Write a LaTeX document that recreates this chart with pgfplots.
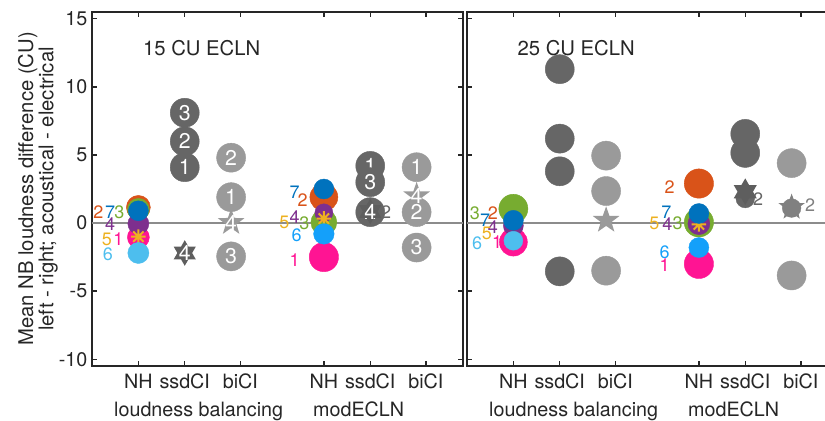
\documentclass[border=0pt]{standalone}
\usepackage{fontspec}
\setmainfont{TeX Gyre Heros}
\usepackage{pgfplots}
\pgfplotsset{compat=1.18}

\definecolor{cOr}{HTML}{D95319}
\definecolor{cBl}{HTML}{0072BD}
\definecolor{cGr}{HTML}{77AC30}
\definecolor{cPu}{HTML}{7E2F8E}
\definecolor{cYe}{HTML}{EDB120}
\definecolor{cLb}{HTML}{4DBEEE}
\definecolor{cLbb}{HTML}{14A0FA}
\definecolor{cMa}{HTML}{FF1493}
\definecolor{dkg}{HTML}{666666}
\definecolor{ltg}{HTML}{9A9A9A}
\definecolor{hxg}{HTML}{5E5E5E}
\definecolor{mdg}{HTML}{808080}
\definecolor{axc}{HTML}{262626}
\definecolor{zl}{HTML}{8C8C8C}

% filled five-pointed star
\pgfdeclareplotmark{pstar}{%
  \pgfpathmoveto{\pgfpointpolar{90}{\pgfplotmarksize}}%
  \pgfpathlineto{\pgfpointpolar{126}{0.4\pgfplotmarksize}}%
  \pgfpathlineto{\pgfpointpolar{162}{\pgfplotmarksize}}%
  \pgfpathlineto{\pgfpointpolar{198}{0.4\pgfplotmarksize}}%
  \pgfpathlineto{\pgfpointpolar{234}{\pgfplotmarksize}}%
  \pgfpathlineto{\pgfpointpolar{270}{0.4\pgfplotmarksize}}%
  \pgfpathlineto{\pgfpointpolar{306}{\pgfplotmarksize}}%
  \pgfpathlineto{\pgfpointpolar{342}{0.4\pgfplotmarksize}}%
  \pgfpathlineto{\pgfpointpolar{18}{\pgfplotmarksize}}%
  \pgfpathlineto{\pgfpointpolar{54}{0.4\pgfplotmarksize}}%
  \pgfpathclose
  \pgfusepathqfill
}
% filled hexagram
\pgfdeclareplotmark{hexa}{%
  \pgfpathmoveto{\pgfpointpolar{90}{\pgfplotmarksize}}%
  \pgfpathlineto{\pgfpointpolar{120}{0.577\pgfplotmarksize}}%
  \pgfpathlineto{\pgfpointpolar{150}{\pgfplotmarksize}}%
  \pgfpathlineto{\pgfpointpolar{180}{0.577\pgfplotmarksize}}%
  \pgfpathlineto{\pgfpointpolar{210}{\pgfplotmarksize}}%
  \pgfpathlineto{\pgfpointpolar{240}{0.577\pgfplotmarksize}}%
  \pgfpathlineto{\pgfpointpolar{270}{\pgfplotmarksize}}%
  \pgfpathlineto{\pgfpointpolar{300}{0.577\pgfplotmarksize}}%
  \pgfpathlineto{\pgfpointpolar{330}{\pgfplotmarksize}}%
  \pgfpathlineto{\pgfpointpolar{0}{0.577\pgfplotmarksize}}%
  \pgfpathlineto{\pgfpointpolar{30}{\pgfplotmarksize}}%
  \pgfpathlineto{\pgfpointpolar{60}{0.577\pgfplotmarksize}}%
  \pgfpathclose
  \pgfusepathqfill
}
% eight-armed asterisk
\pgfdeclareplotmark{ast8}{%
  \pgfpathmoveto{\pgfpointpolar{0}{\pgfplotmarksize}}\pgfpathlineto{\pgfpointpolar{180}{\pgfplotmarksize}}%
  \pgfpathmoveto{\pgfpointpolar{45}{\pgfplotmarksize}}\pgfpathlineto{\pgfpointpolar{225}{\pgfplotmarksize}}%
  \pgfpathmoveto{\pgfpointpolar{90}{\pgfplotmarksize}}\pgfpathlineto{\pgfpointpolar{270}{\pgfplotmarksize}}%
  \pgfpathmoveto{\pgfpointpolar{135}{\pgfplotmarksize}}\pgfpathlineto{\pgfpointpolar{315}{\pgfplotmarksize}}%
  \pgfusepathqstroke
}

\newcommand{\tlfont}{\fontsize{14.8}{15}\selectfont}
\newcommand{\nmfont}{\fontsize{16}{16}\selectfont}
\newcommand{\lbfont}{\fontsize{13.5}{14}\selectfont}
\newcommand{\ttfont}{\fontsize{15.2}{16}\selectfont}
\newcommand{\ylfont}{\fontsize{15.2}{15.2}\selectfont}

\pgfplotsset{
  panel/.style={
    anchor=south west, scale only axis,
    width=278.25pt, height=265.5pt,
    xmin=0, xmax=8, ymin=-10.5, ymax=15.5,
    xtick={1,2,3.2,5,6,7.2},
    xticklabels={NH,ssdCI,biCI,NH,ssdCI,biCI},
    ytick={-10,-5,0,5,10,15},
    yticklabels={-10,-5,0,5,10,15},
    axis line style={axc, line width=2pt},
    tick style={axc, line width=1pt},
    major tick length=4pt,
    tick align=inside,
    xticklabel shift=2.5pt,
    tick label style={font=\tlfont, text=axc},
    clip=false,
  },
  num/.style={nodes near coords, point meta=explicit symbolic,
    every node near coord/.append style={anchor=center, text=white, font=\nmfont, inner sep=0pt}},
}

% numbered marker: mark, size, colour, x, y, number
\newcommand{\gnum}[6]{\addplot[only marks, mark=#1, mark size=#2, mark options={fill=#3, draw=#3, line width=0.3pt}, num] coordinates {(#4,#5) [#6]};}
% plain marker: mark, size, colour, x, y
\newcommand{\gmk}[5]{\addplot[only marks, mark=#1, mark size=#2, mark options={fill=#3, draw=#3, line width=0.3pt}] coordinates {(#4,#5)};}
% subject circle: colour, size, x, y
\newcommand{\ccir}[4]{\addplot[only marks, mark=*, mark size=#2, mark options={fill=#1, draw=#1, line width=0.3pt}] coordinates {(#3,#4)};}
\newcommand{\astk}[2]{\addplot[only marks, mark=ast8, mark size=5.5pt, mark options={draw=cYe, line width=1.5pt}] coordinates {(#1,#2)};}
\newcommand{\clab}[4]{\node[text=#1, font=\lbfont, inner sep=0pt] at (axis cs:#2,#3) {#4};}

\begin{document}
\begin{tikzpicture}
\useasboundingbox (0,0) rectangle (618.75pt,315.75pt);
\clip (0,0) rectangle (618.75pt,315.75pt);

\node[rotate=90, align=center, font=\ylfont, text=axc] at (28.5pt,174pt)
  {Mean NB loudness difference (CU)\\left - right; acoustical - electrical};

% ---------------- 15 CU ECLN ----------------
\begin{axis}[panel, at={(69pt,41.25pt)}]
\addplot[zl, line width=1.1pt] coordinates {(0,0) (8,0)};
\node[anchor=base west, font=\ttfont, text=axc] at (axis cs:1.0,12.3) {15 CU ECLN};

% loudness balancing, NH
\ccir{cMa}{8.25pt}{1}{-1.05}
\ccir{cOr}{9pt}{1}{1.15}
\ccir{cGr}{8.25pt}{1}{1.0}
\ccir{cPu}{7.9pt}{1}{-0.05}
\astk{1}{-1.0}
\ccir{cLb}{7.9pt}{1}{-2.2}
\ccir{cBl}{7.5pt}{1}{0.9}
\clab{cOr}{0.14}{0.77}{2}
\clab{cBl}{0.39}{0.77}{7}
\clab{cGr}{0.59}{0.77}{3}
\clab{cPu}{0.39}{-0.1}{4}
\clab{cYe}{0.32}{-1.2}{5}
\clab{cMa}{0.57}{-1.2}{1}
\clab{cLb}{0.34}{-2.3}{6}

% loudness balancing, ssdCI
\gnum{*}{10.9pt}{dkg}{2}{4.1}{1}
\gnum{*}{10.9pt}{dkg}{2}{6.0}{2}
\gnum{*}{10.9pt}{dkg}{2}{8.1}{3}
\gnum{hexa}{9.6pt}{hxg}{2}{-2.2}{4}

% loudness balancing, biCI
\gnum{*}{10.9pt}{ltg}{3}{1.9}{1}
\gnum{*}{10.9pt}{ltg}{3}{4.8}{2}
\gnum{*}{10.9pt}{ltg}{3}{-2.45}{3}
\gnum{pstar}{10.5pt}{ltg}{3}{0.04}{4}

% modECLN, NH
\ccir{cMa}{11pt}{5}{-2.5}
\ccir{cOr}{10.5pt}{5}{1.9}
\ccir{cGr}{9.75pt}{5}{0.05}
\ccir{cPu}{6.75pt}{5}{0.75}
\astk{5}{0.33}
\ccir{cLbb}{7.7pt}{5}{-0.8}
\ccir{cBl}{7.5pt}{5}{2.5}
\clab{cBl}{4.37}{2.23}{7}
\clab{cOr}{4.54}{1.65}{2}
\clab{cYe}{4.15}{0.04}{5}
\clab{cPu}{4.37}{0.4}{4}
\clab{cGr}{4.58}{-0.04}{3}
\clab{cLbb}{4.41}{-0.92}{6}
\clab{cMa}{4.37}{-2.75}{1}

% modECLN, ssdCI
\gnum{*}{10.9pt}{dkg}{6}{4.2}{1}
\gnum{*}{10.9pt}{dkg}{6}{0.8}{2}
\gnum{*}{10.9pt}{dkg}{6}{3.0}{3}
\gnum{hexa}{9.6pt}{hxg}{6}{0.85}{4}
\clab{dkg}{6.34}{0.77}{2}

% modECLN, biCI
\gnum{*}{10.9pt}{ltg}{7}{4.1}{1}
\gnum{*}{10.9pt}{ltg}{7}{0.8}{2}
\gnum{*}{10.9pt}{ltg}{7}{-1.8}{3}
\gnum{pstar}{10.5pt}{ltg}{7}{2.0}{4}

\node[anchor=base, font=\tlfont, text=axc] at (axis cs:2.3,-14.2) {loudness balancing};
\node[anchor=base, font=\tlfont, text=axc] at (axis cs:5.75,-14.2) {modECLN};
\end{axis}

% ---------------- 25 CU ECLN ----------------
\begin{axis}[panel, at={(350.25pt,41.25pt)}, yticklabels={}]
\addplot[zl, line width=1.1pt] coordinates {(0,0) (8,0)};
\node[anchor=base west, font=\ttfont, text=axc] at (axis cs:0.99,12.3) {25 CU ECLN};

% loudness balancing, NH
\ccir{cMa}{10.5pt}{1}{-1.4}
\ccir{cOr}{7.5pt}{1}{0.6}
\ccir{cGr}{10.9pt}{1}{1.05}
\ccir{cPu}{7.5pt}{1}{-0.2}
\astk{1}{-1.35}
\ccir{cLb}{7.1pt}{1}{-1.3}
\ccir{cBl}{7.5pt}{1}{0.2}
\clab{cGr}{0.17}{0.7}{3}
\clab{cBl}{0.39}{0.18}{7}
\clab{cOr}{0.56}{0.7}{2}
\clab{cPu}{0.56}{-0.33}{4}
\clab{cYe}{0.43}{-0.77}{5}
\clab{cLb}{0.22}{-1.5}{6}
\clab{cMa}{0.65}{-1.43}{1}

% loudness balancing, ssdCI
\gmk{*}{10.9pt}{dkg}{2}{3.8}
\gmk{*}{10.9pt}{dkg}{2}{6.2}
\gmk{*}{10.9pt}{dkg}{2}{11.3}
\gmk{*}{10.9pt}{dkg}{2}{-3.55}

% loudness balancing, biCI
\gmk{*}{10.9pt}{ltg}{3}{2.35}
\gmk{*}{10.9pt}{ltg}{3}{4.95}
\gmk{*}{10.9pt}{ltg}{3}{-3.5}
\gmk{pstar}{10.5pt}{ltg}{3}{0.2}

% modECLN, NH
\ccir{cMa}{11pt}{5}{-3.0}
\ccir{cOr}{11pt}{5}{2.9}
\ccir{cGr}{11pt}{5}{0.05}
\ccir{cPu}{8.25pt}{5}{-0.05}
\astk{5}{-0.1}
\ccir{cLbb}{7.5pt}{5}{-1.8}
\ccir{cBl}{7.5pt}{5}{0.7}
\clab{cOr}{4.37}{2.67}{2}
\clab{cBl}{4.30}{0.77}{7}
\clab{cYe}{4.04}{-0.04}{5}
\clab{cPu}{4.32}{-0.1}{4}
\clab{cGr}{4.54}{-0.04}{3}
\clab{cLbb}{4.26}{-2.16}{6}
\clab{cMa}{4.26}{-3.1}{1}

% modECLN, ssdCI
\gmk{*}{10.9pt}{dkg}{6}{6.55}
\gmk{*}{7pt}{dkg}{6}{1.8}
\gmk{*}{10.9pt}{dkg}{6}{5.15}
\gmk{hexa}{10pt}{hxg}{6}{2.3}
\clab{dkg}{6.28}{1.72}{2}

% modECLN, biCI
\gmk{*}{10.9pt}{ltg}{7}{4.4}
\gmk{*}{7pt}{mdg}{7}{1.1}
\gmk{*}{10.9pt}{ltg}{7}{-3.85}
\gmk{pstar}{10.4pt}{mdg}{7}{1.15}
\clab{mdg}{7.4}{1.28}{2}

\node[anchor=base, font=\tlfont, text=axc] at (axis cs:2.3,-14.2) {loudness balancing};
\node[anchor=base, font=\tlfont, text=axc] at (axis cs:5.75,-14.2) {modECLN};
\end{axis}
\end{tikzpicture}
\end{document}
